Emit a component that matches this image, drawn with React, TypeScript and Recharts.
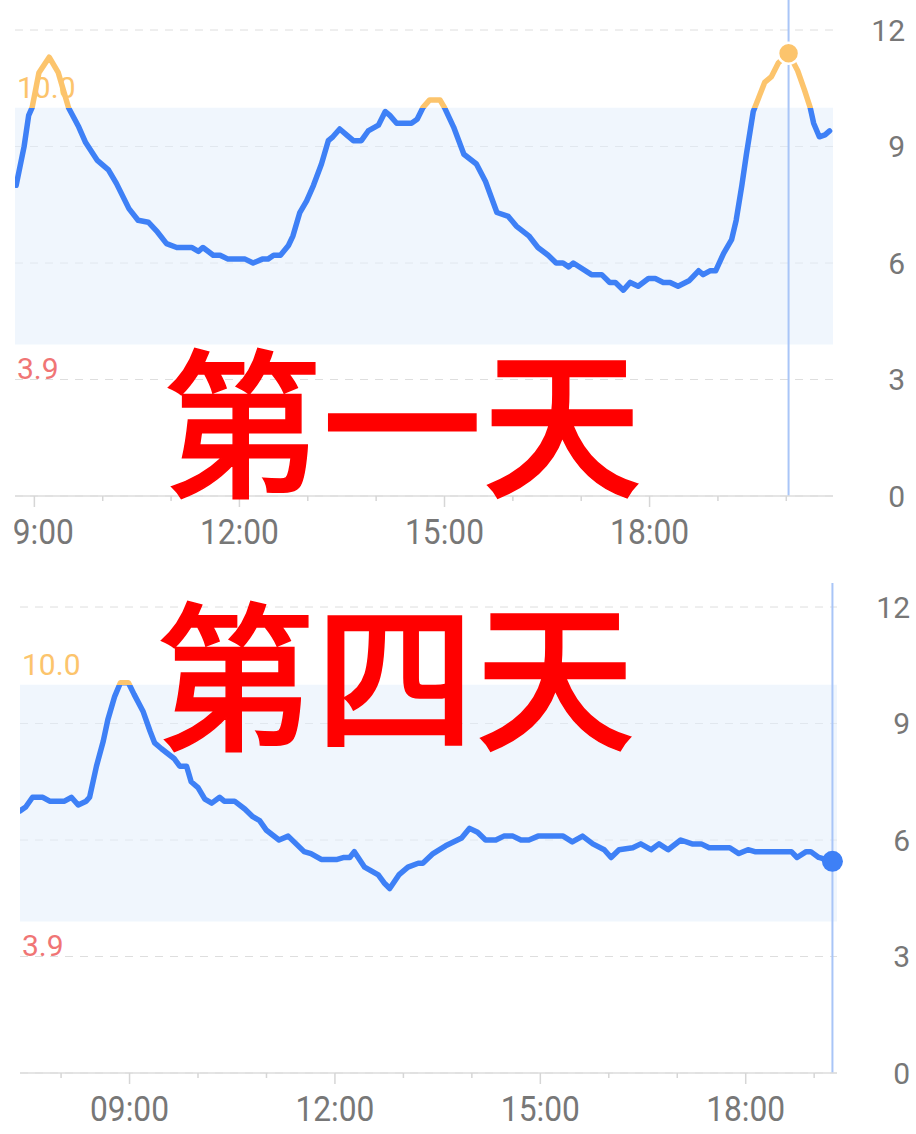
import React from "react";
import {
  LineChart,
  Line,
  XAxis,
  YAxis,
  CartesianGrid,
  ReferenceArea,
  ReferenceLine,
  ReferenceDot,
} from "recharts";

// glucose readings, mmol/L
const day1Times = [
  "08:44", "08:51", "08:55", "08:58", "09:04", "09:13", "09:21", "09:30", "09:39", "09:45",
  "09:55", "10:05", "10:12", "10:23", "10:31", "10:40", "10:48", "10:56", "11:05", "11:18",
  "11:24", "11:28", "11:37", "11:43", "11:50", "12:05", "12:12", "12:20", "12:25", "12:30",
  "12:36", "12:43", "12:47", "12:53", "12:59", "13:05", "13:12", "13:18", "13:22", "13:28",
  "13:34", "13:40", "13:47", "13:53", "14:02", "14:08", "14:12", "14:18", "14:31", "14:36",
  "14:41", "14:47", "14:56", "15:00", "15:08", "15:17", "15:28", "15:36", "15:46", "15:56",
  "16:03", "16:14", "16:22", "16:31", "16:38", "16:44", "16:49", "16:53", "17:09", "17:18",
  "17:25", "17:30", "17:37", "17:43", "17:50", "17:59", "18:05", "18:12", "18:18", "18:25",
  "18:35", "18:43", "18:47", "18:53", "18:58", "19:05", "19:12", "19:16", "19:21", "19:25",
  "19:31", "19:35", "19:41", "19:47", "19:53", "20:02", "20:10", "20:16", "20:21", "20:24",
  "20:29", "20:34", "20:38",
];
const day1Values = [
  8.0, 9.0, 9.8, 10.0, 10.9, 11.3, 10.9, 10.0, 9.5, 9.1,
  8.65, 8.4, 8.05, 7.4, 7.1, 7.05, 6.8, 6.5, 6.4, 6.4,
  6.3, 6.4, 6.2, 6.2, 6.1, 6.1, 6.0, 6.1, 6.1, 6.2,
  6.2, 6.45, 6.7, 7.3, 7.6, 8.0, 8.55, 9.15, 9.25, 9.45,
  9.3, 9.15, 9.15, 9.4, 9.55, 9.9, 9.8, 9.6, 9.6, 9.7,
  10.0, 10.2, 10.2, 10.0, 9.5, 8.8, 8.55, 8.1, 7.3, 7.2,
  6.95, 6.7, 6.4, 6.2, 6.0, 6.0, 5.9, 6.0, 5.7, 5.7,
  5.5, 5.5, 5.3, 5.5, 5.4, 5.6, 5.6, 5.5, 5.5, 5.4,
  5.55, 5.8, 5.7, 5.8, 5.8, 6.25, 6.6, 7.1, 8.0, 8.8,
  9.9, 10.2, 10.65, 10.8, 11.15, 11.4, 10.95, 10.45, 10.0, 9.6,
  9.25, 9.3, 9.4,
];

const day4Times = [
  "07:24", "07:29", "07:35", "07:44", "07:50", "08:03", "08:09", "08:15", "08:22", "08:25",
  "08:31", "08:37", "08:41", "08:47", "08:52", "08:59", "09:04", "09:12", "09:18", "09:22",
  "09:28", "09:39", "09:44", "09:50", "09:54", "10:00", "10:06", "10:12", "10:19", "10:23",
  "10:32", "10:41", "10:48", "10:54", "11:00", "11:11", "11:19", "11:26", "11:33", "11:39",
  "11:48", "12:02", "12:08", "12:13", "12:17", "12:26", "12:38", "12:43", "12:48", "12:56",
  "13:04", "13:13", "13:17", "13:26", "13:37", "13:51", "13:58", "14:05", "14:12", "14:21",
  "14:28", "14:36", "14:43", "14:50", "14:58", "15:20", "15:28", "15:37", "15:46", "15:56",
  "16:02", "16:09", "16:21", "16:28", "16:37", "16:44", "16:52", "17:03", "17:13", "17:21",
  "17:28", "17:46", "17:54", "18:02", "18:08", "18:40", "18:45", "18:53", "18:57", "19:04",
  "19:16",
];
const day4Values = [
  6.75, 6.85, 7.1, 7.1, 7.0, 7.0, 7.1, 6.9, 7.0, 7.1,
  7.9, 8.55, 9.1, 9.7, 10.05, 10.05, 9.75, 9.3, 8.8, 8.5,
  8.35, 8.1, 7.9, 7.9, 7.5, 7.35, 7.05, 6.95, 7.1, 7.0,
  7.0, 6.8, 6.6, 6.5, 6.25, 6.0, 6.1, 5.9, 5.7, 5.65,
  5.5, 5.5, 5.55, 5.55, 5.7, 5.3, 5.1, 4.9, 4.75, 5.1,
  5.3, 5.4, 5.4, 5.65, 5.85, 6.05, 6.3, 6.2, 6.0, 6.0,
  6.1, 6.1, 6.0, 6.0, 6.1, 6.1, 5.95, 6.1, 5.9, 5.75,
  5.55, 5.75, 5.8, 5.9, 5.75, 5.9, 5.75, 6.0, 5.9, 5.9,
  5.8, 5.8, 5.65, 5.75, 5.7, 5.7, 5.55, 5.7, 5.7, 5.55,
  5.45,
];

const day1Hours = [9, 10, 11, 12, 13, 14, 15, 16, 17, 18, 19, 20];
const day4Hours = [8, 9, 10, 11, 12, 13, 14, 15, 16, 17, 18, 19];
const labelHours = [9, 12, 15, 18];
const labelTexts = ["09:00", "12:00", "15:00", "18:00"];
const yTicks = [0, 3, 6, 9, 12];
const targetLow = 3.9;
const targetHigh = 10.0;

const BLUE = "#3e80f6";
const ORANGE = "#fcc46c";
const GREY = "#777777";

const toMin = (s: string) => Number(s.slice(0, 2)) * 60 + Number(s.slice(3));

const makeHourTick = (clipId: string) => (props: any) => {
  const { x, y, payload } = props;
  const h = payload.value / 60;
  const idx = labelHours.indexOf(h);
  const major = idx >= 0;
  return (
    <g>
      <line x1={x} x2={x} y1={y} y2={y + (major ? 11 : 5)} stroke="#d6d6d6" strokeWidth={1.5} />
      {major && (
        <text
          x={x}
          y={y + 36}
          textAnchor="middle"
          dominantBaseline="central"
          fill={GREY}
          fontSize={35}
          textLength={79}
          lengthAdjust="spacingAndGlyphs"
          fontFamily="Roboto"
          clipPath={`url(#${clipId})`}
        >
          {labelTexts[idx]}
        </text>
      )}
    </g>
  );
};

const makeValueTick = (dx: number) => (props: any) => {
  const { x, y, payload } = props;
  return (
    <text
      x={x + dx}
      y={y}
      textAnchor="end"
      dominantBaseline="central"
      fill={GREY}
      fontSize={30}
      fontFamily="Roboto"
    >
      {payload.value}
    </text>
  );
};

const BandLabel = (props: any) => {
  const { viewBox, text, color, dy } = props;
  if (!viewBox) return null;
  return (
    <text x={viewBox.x + 2} y={viewBox.y + dy} fill={color} fontSize={30} fontFamily="Roboto">
      {text}
    </text>
  );
};

interface DayChartProps {
  id: string;
  times: string[];
  values: number[];
  start: string;
  end: string;
  hours: number[];
  height: number;
  left: number;
  yWidth: number;
  xHeight: number;
  labelDx: number;
  cursor: string;
  cursorTop: number;
  dotColor: string;
  dotRing: boolean;
}

function DayChart(p: DayChartProps) {
  const data = p.times.map((t, i) => ({ t: toMin(t), v: p.values[i] }));
  const max = Math.max(...p.values);
  const min = Math.min(...p.values);
  const off = Math.max(0, (max - targetHigh) / (max - min));
  const ci = p.times.indexOf(p.cursor);
  const cx = toMin(p.cursor);
  const clipId = `${p.id}-clip`;

  return (
    <LineChart
      width={916}
      height={p.height}
      data={data}
      margin={{ top: 30, right: 0, left: p.left, bottom: 0 }}
    >
      <defs>
        <linearGradient id={p.id} x1="0" y1="0" x2="0" y2="1">
          <stop offset={0} stopColor={ORANGE} />
          <stop offset={off} stopColor={ORANGE} />
          <stop offset={off} stopColor={BLUE} />
          <stop offset={1} stopColor={BLUE} />
        </linearGradient>
        <clipPath id={clipId}>
          <rect x={p.left - 1} y={0} width={916} height={p.height} />
        </clipPath>
      </defs>
      <ReferenceArea y1={targetLow} y2={targetHigh} fill="#e4eefc" fillOpacity={0.55} stroke="none" />
      <CartesianGrid vertical={false} stroke="#dedede" strokeDasharray="8 7" />
      <XAxis
        dataKey="t"
        type="number"
        domain={[toMin(p.start), toMin(p.end)]}
        ticks={p.hours.map((h) => h * 60)}
        interval={0}
        height={p.xHeight}
        tickSize={0}
        tickMargin={0}
        tickLine={false}
        axisLine={{ stroke: "#dcdcdc", strokeWidth: 1.5 }}
        tick={makeHourTick(clipId)}
        allowDataOverflow
      />
      <YAxis
        orientation="right"
        domain={[0, 12]}
        ticks={yTicks}
        width={p.yWidth}
        tickSize={0}
        tickMargin={0}
        axisLine={false}
        tickLine={false}
        tick={makeValueTick(p.labelDx)}
      />
      <ReferenceLine
        y={targetHigh}
        stroke="none"
        label={<BandLabel text={targetHigh.toFixed(1)} color={ORANGE} dy={-10} />}
      />
      <ReferenceLine
        y={targetLow}
        stroke="none"
        label={<BandLabel text={String(targetLow)} color="#f07575" dy={34} />}
      />
      <ReferenceLine
        segment={[
          { x: cx, y: 0 },
          { x: cx, y: p.cursorTop },
        ]}
        ifOverflow="visible"
        stroke="#a9c5f7"
        strokeWidth={2}
      />
      <Line
        type="linear"
        dataKey="v"
        stroke={`url(#${p.id})`}
        strokeWidth={5.5}
        strokeLinejoin="round"
        strokeLinecap="round"
        dot={false}
        activeDot={false}
        isAnimationActive={false}
      />
      <ReferenceDot
        x={cx}
        y={p.values[ci]}
        r={10.5}
        fill={p.dotColor}
        stroke={p.dotRing ? "#ffffff" : "none"}
        strokeWidth={2.5}
      />
    </LineChart>
  );
}

const titles = ["第一天", "第四天"];

const titleStyle = {
  textAnchor: "middle" as const,
  fontSize: 160,
  fontWeight: 500,
  fill: "#ff0000",
  stroke: "#ff0000",
  strokeWidth: 1.5,
  fontFamily: "'Noto Sans CJK SC', sans-serif",
};

export default function App() {
  return (
    <div
      style={{
        position: "absolute",
        left: 0,
        top: 0,
        width: 916,
        height: 1134,
        background: "#fff",
        overflow: "hidden",
      }}
    >
      <div style={{ position: "absolute", left: 0, top: 0 }}>
        <DayChart
          id="g1"
          times={day1Times}
          values={day1Values}
          start="08:43"
          end="20:41"
          hours={day1Hours}
          height={570}
          left={15}
          yWidth={83}
          xHeight={74}
          labelDx={72}
          cursor="20:02"
          cursorTop={12.8}
          dotColor={ORANGE}
          dotRing
        />
      </div>
      <div style={{ position: "absolute", left: 0, top: 577 }}>
        <DayChart
          id="g4"
          times={day4Times}
          values={day4Values}
          start="07:24"
          end="19:20"
          hours={day4Hours}
          height={557}
          left={20}
          yWidth={79}
          xHeight={61}
          labelDx={73}
          cursor={day4Times[day4Times.length - 1]}
          cursorTop={12.62}
          dotColor={BLUE}
          dotRing={false}
        />
      </div>
      <svg
        width={916}
        height={1134}
        style={{ position: "absolute", left: 0, top: 0, pointerEvents: "none" }}
      >
        <text x={402} y={485} {...titleStyle}>
          {titles[0]}
        </text>
        <text x={395} y={738} {...titleStyle}>
          {titles[1]}
        </text>
      </svg>
    </div>
  );
}
